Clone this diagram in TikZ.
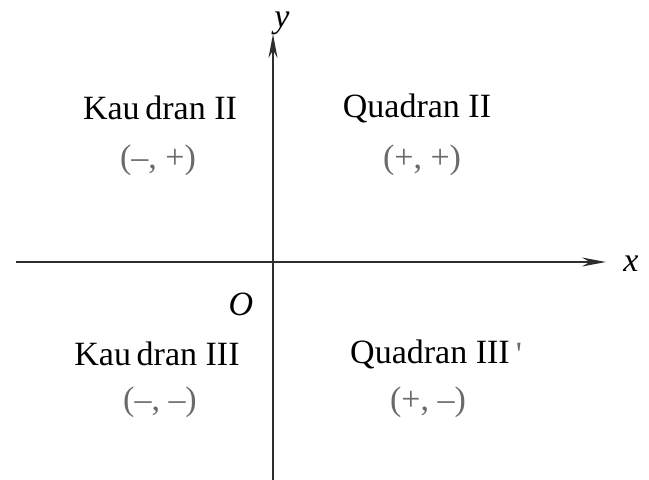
\documentclass[tikz,border=0pt]{standalone}
\usepackage{fontspec}
\setmainfont{Liberation Serif}
\usepackage{xcolor}
\usetikzlibrary{arrows.meta}
\definecolor{axisgray}{HTML}{2E2E2E}
\definecolor{signgray}{HTML}{6A6A6A}
\tikzset{quadname/.style={inner sep=0pt,font=\fontsize{34}{40}\selectfont},
 signpair/.style={inner sep=0pt,text=signgray,font=\fontsize{34}{40}\selectfont},
 axislabel/.style={inner sep=0pt,font=\fontsize{34}{40}\selectfont\itshape},
 axisline/.style={draw=axisgray,line width=2.3pt,-{Stealth[length=24pt,width=9pt]}},
 }

\begin{document}
\begin{tikzpicture}[x=1pt,y=-1pt]
        \useasboundingbox (0,0) rectangle (649,480);
        \coordinate (xstart) at (16,262);
        \coordinate (xend) at (606,262);
        \coordinate (ystart) at (273,480);
        \coordinate (yend) at (273,34);
        \draw [axisline] (xstart) -- (xend);
        \draw [axisline] (ystart) -- (yend);
        \node [axislabel] (xlab) at (631,264) {x};
        \node [axislabel] (ylab) at (282,23) {y};
        \node [axislabel] (orig) at (241,304) {O};
        \node [quadname] (kuad2) at (160,108) {Kau\,dran II};
        \node [signpair] (sign2) at (158,160) {(\textendash, +)};
        \node [quadname] (quad1) at (417,108) {Quadran II};
        \node [signpair] (sign1) at (422,160) {(+, +)};
        \node [quadname] (kuad3) at (157,354) {Kau\,dran III};
        \node [signpair] (sign3) at (160,402) {(\textendash, \textendash)};
        \node [quadname] (quad4) at (430,354) {Quadran III};
        \node [signpair, anchor=west] (tick) at (quad4.east) {\,\textquotesingle};
        \node [signpair] (sign4) at (428,402) {(+, \textendash)};
    \end{tikzpicture}
\end{document}
